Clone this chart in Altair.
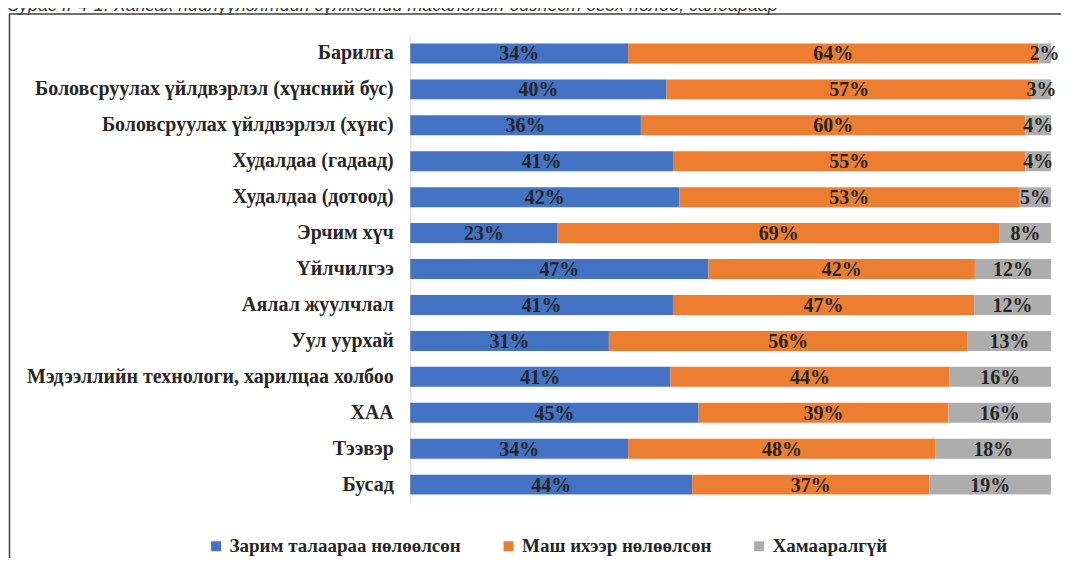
import altair as alt
import pandas as pd

title_text = "Зураг II-4-1. Хангах нийлүүлэлтийн сүлжээний тасалдлын бизнест өгөх нөлөө, салбараар"

categories = [
    "Барилга\u00a0",
    "Боловсруулах үйлдвэрлэл (хүнсний бус)",
    "Боловсруулах үйлдвэрлэл (хүнс)",
    "Худалдаа (гадаад)\u00a0",
    "Худалдаа (дотоод)\u00a0",
    "Эрчим хүч\u00a0",
    "Үйлчилгээ",
    "Аялал жуулчлал",
    "Уул уурхай",
    "Мэдээллийн технологи, харилцаа холбоо",
    "ХАА",
    "Тээвэр\u00a0",
    "Бусад\u00a0",
]
some_impact = [34, 40, 36, 41, 42, 23, 47, 41, 31, 41, 45, 34, 44]
high_impact = [64, 57, 60, 55, 53, 69, 42, 47, 56, 44, 39, 48, 37]
not_related = [2, 3, 4, 4, 5, 8, 12, 12, 13, 16, 16, 18, 19]
series = ["Зарим талаараа нөлөөлсөн", "Маш ихээр нөлөөлсөн", "Хамааралгүй"]
colors = ["#4472C4", "#ED7D31", "#ADADAD"]

rows = []
for i, c in enumerate(categories):
    for j, vals in enumerate([some_impact, high_impact, not_related]):
        rows.append({"cat": c, "series": series[j], "order": j,
                     "value": vals[i], "label": f"{vals[i]}%"})
df = pd.DataFrame(rows)
one = pd.DataFrame({"a": [0]})

yenc = alt.Y(
    "cat:N", sort=categories,
    scale=alt.Scale(paddingInner=0.444, paddingOuter=0.222),
    axis=alt.Axis(title=None, ticks=False, labelFont="Liberation Serif",
                  labelFontWeight="bold", labelFontSize=20, labelColor="#262626",
                  labelPadding=17, labelLimit=500, domainColor="#D9D9D9",
                  domainWidth=1, grid=False),
)

base = alt.Chart(df).transform_stack(
    stack="value", groupby=["cat"], as_=["x1", "x2"],
    sort=[alt.SortField(field="order", order="ascending")], offset="normalize",
).transform_calculate(mid="(datum.x1 + datum.x2) / 2")

bars = base.mark_bar().encode(
    x=alt.X("x1:Q", scale=alt.Scale(domain=[0, 1]), axis=None),
    x2="x2:Q",
    y=yenc,
    color=alt.Color(
        "series:N", scale=alt.Scale(domain=series, range=colors),
        legend=alt.Legend(title=None, orient="none", direction="horizontal",
                          legendX=-204, legendY=502, symbolType="square",
                          symbolSize=100, symbolStrokeWidth=0, columnPadding=38,
                          labelOffset=4, labelFont="Liberation Serif",
                          labelFontWeight="bold", labelFontSize=19,
                          labelLimit=500, labelColor="#262626"),
    ),
)

texts = base.mark_text(font="Liberation Serif", fontWeight="bold", fontSize=20,
                       color="#262626", baseline="middle", dy=1).encode(
    x=alt.X("mid:Q", scale=alt.Scale(domain=[0, 1]), axis=None),
    y=alt.Y("cat:N", sort=categories),
    text="label:N",
)

frame_left = alt.Chart(one).mark_rule(color="#404040", strokeWidth=1.5).encode(
    x=alt.value(-401.5), y=alt.value(-21.5), y2=alt.value(530))
frame_top = alt.Chart(one).mark_rule(color="#404040", strokeWidth=1.5).encode(
    x=alt.value(-402), x2=alt.value(660), y=alt.value(-21.5))
title = alt.Chart(one).mark_text(
    text=title_text, font="Liberation Sans", fontStyle="italic", fontSize=18,
    align="left", baseline="alphabetic", color="#404040").encode(
    x=alt.value(-403), y=alt.value(-25))

chart = alt.layer(bars, texts, frame_left, frame_top, title).properties(
    width=642, height=468,
    padding={"left": 403, "top": 27, "right": 10, "bottom": 55},
    autosize=alt.AutoSizeParams(type="none"),
).configure_view(stroke=None)

chart.save("out.html", embed_options={"renderer": "svg", "actions": False})
